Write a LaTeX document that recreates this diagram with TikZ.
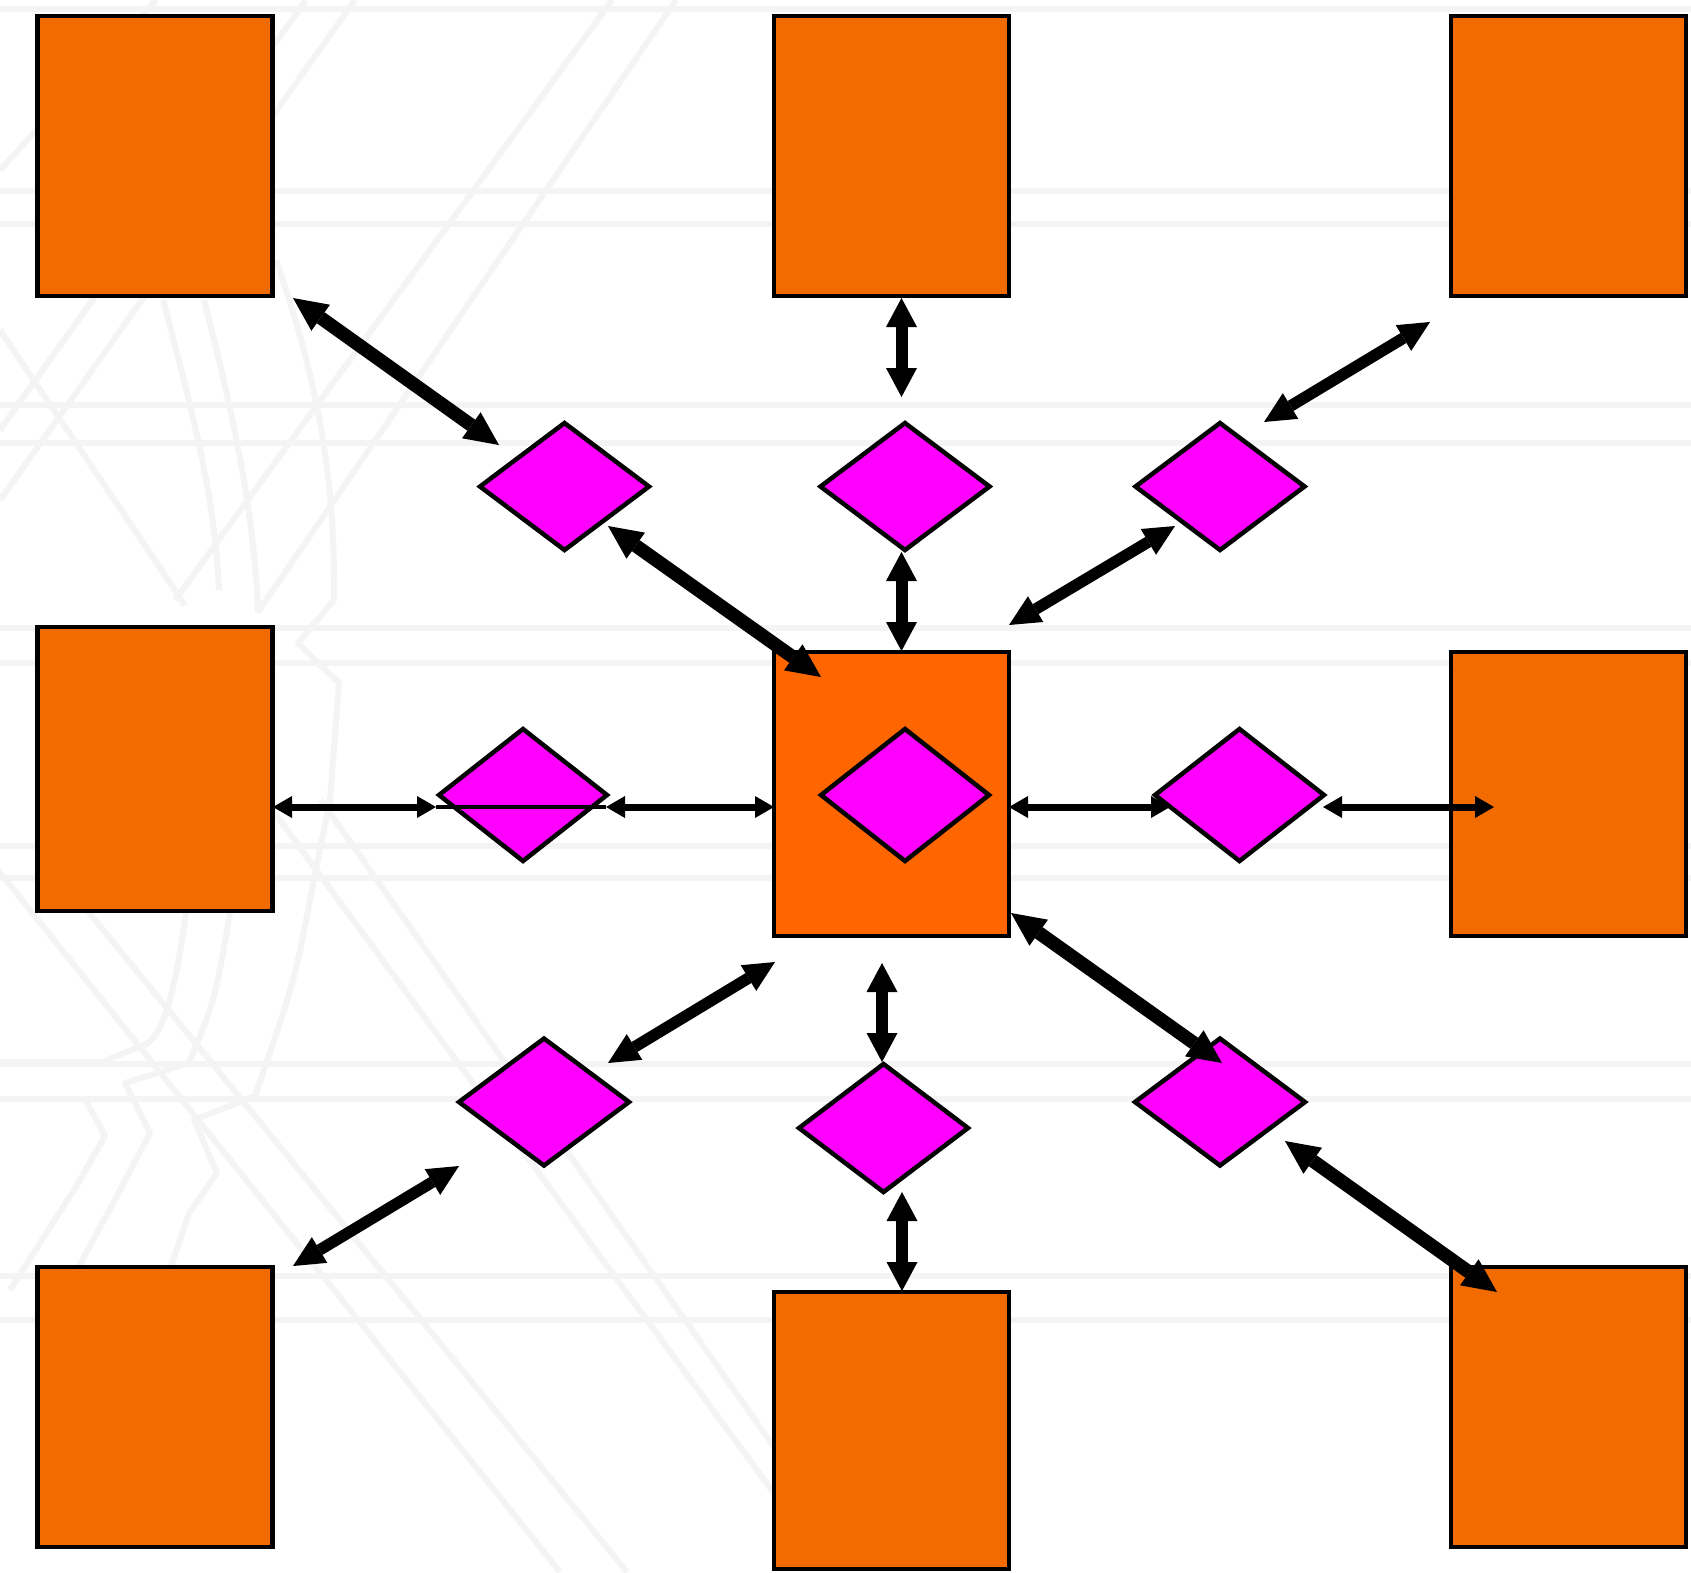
\documentclass[tikz,border=0pt]{standalone}
\usetikzlibrary{arrows.meta,shapes.geometric}
\definecolor{boxorange}{HTML}{F26B00}
\definecolor{centerorange}{HTML}{FF6600}
\definecolor{dmag}{HTML}{FF00FF}
\definecolor{bgline}{HTML}{F4F4F4}
\tikzset{
  box/.style={draw=black, line width=4.5pt, fill=boxorange, minimum width=235pt, inner sep=0pt, outer sep=0pt},
  dia/.style={diamond, draw=black, line width=4.5pt, fill=dmag, minimum width=169pt, minimum height=127pt, inner sep=0pt, outer sep=0pt},
  bgl/.style={draw=bgline, line width=6pt, line join=round},
  thickarr/.style={line width=13.5pt, {Triangle[length=34pt,width=32pt,line width=0pt]}-{Triangle[length=34pt,width=32pt,line width=0pt]}},
  medarr/.style={line width=11.5pt, {Triangle[length=31pt,width=30pt,line width=0pt]}-{Triangle[length=31pt,width=30pt,line width=0pt]}},
  vertarr/.style={line width=12pt, {Triangle[length=29pt,width=31pt,line width=0pt]}-{Triangle[length=29pt,width=31pt,line width=0pt]}},
  horarr/.style={line width=7pt, {Triangle[length=19pt,width=22pt,line width=0pt]}-{Triangle[length=19pt,width=22pt,line width=0pt]}},
  thinline/.style={line width=4.5pt}
}
\begin{document}
\begin{tikzpicture}[x=1pt,y=-1pt]
\useasboundingbox (0,0) rectangle (1691,1572);
\fill[white] (0,0) rectangle (1691,1572);
% faint background pattern
\foreach \yy in {9,191,224,405,443,628,663,846,878,1064,1099,1276,1320}
  \draw[bgl] (0,\yy) -- (1691,\yy);
\draw[bgl] (355,0) -- (0,500);
\draw[bgl] (306,0) -- (0,430);
\draw[bgl] (156,0) -- (0,170);
\draw[bgl] (612,0) -- (175,600);
\draw[bgl] (676,0) -- (258,612);
\draw[bgl] (0,330) -- (185,605);
\draw[bgl] (163,300) .. controls (195,420) and (215,500) .. (219,590);
\draw[bgl] (204,300) .. controls (235,420) and (255,520) .. (258,613);
\draw[bgl] (276,260) .. controls (325,400) and (335,500) .. (334,600) -- (298,643) -- (339,683) -- (330,800) -- (313,884) .. controls (295,980) .. (255,1096) -- (194,1120) -- (217,1173) -- (189,1213) -- (163,1290);
\draw[bgl] (186,913) .. controls (175,990) and (165,1030) .. (148,1043) -- (102,1062) -- (0,1062);
\draw[bgl] (85,1099) -- (105,1136) -- (77,1185) -- (10,1290);
\draw[bgl] (230,913) .. controls (215,1000) .. (189,1063) -- (125,1083) -- (150,1133) -- (117,1196) -- (66,1290);
\draw[bgl] (-18,850) -- (560,1572);
\draw[bgl] (38,850) -- (627,1572);
\draw[bgl] (265,800) -- (790,1515);
\draw[bgl] (321,800) -- (790,1470);
% boxes
\node[box, minimum height=280pt] (b1) at (155,156) {};
\node[box, minimum height=280pt] (b2) at (891.5,156) {};
\node[box, minimum height=280pt] (b3) at (1568.5,156) {};
\node[box, minimum height=284pt] (b4) at (155,769) {};
\node[box, minimum height=284pt, fill=centerorange] (b5) at (891.5,794) {};
\node[box, minimum height=284pt] (b6) at (1568.5,794) {};
\node[box, minimum height=280pt] (b7) at (155,1407) {};
\node[box, minimum height=277pt] (b8) at (891.5,1430.5) {};
\node[box, minimum height=280pt] (b9) at (1568.5,1407) {};
% diamonds
\node[dia] (d1) at (564.5,486.5) {};
\node[dia] (d2) at (905,486.5) {};
\node[dia] (d3) at (1220,486.5) {};
\node[dia, minimum width=168pt, minimum height=132pt] (d4) at (523,795) {};
\node[dia, minimum width=168pt, minimum height=132pt] (d5) at (905,795) {};
\node[dia, minimum width=169pt, minimum height=132pt] (d6) at (1239.5,795) {};
\node[dia, minimum width=170pt] (d7) at (544,1102) {};
\node[dia, minimum height=128pt] (d8) at (883.5,1128) {};
\node[dia, minimum width=170pt] (d9) at (1220,1102) {};
% connectors
\draw[thickarr] ([shift={(138,142)}]b1.center) -- ([shift={(-65.5,-41.5)}]d1.center);
\draw[vertarr] ([shift={(10,142)}]b2.center) -- ([shift={(-3.5,-89.5)}]d2.center);
\draw[medarr] ([shift={(44,-64.5)}]d3.center) -- ([shift={(-138.5,166)}]b3.center);
\draw[thickarr] ([shift={(43.5,39.5)}]d1.center) -- ([shift={(-70.5,-117)}]b5.center);
\draw[vertarr] ([shift={(-3.5,65.5)}]d2.center) -- ([shift={(10,-143)}]b5.center);
\draw[medarr] ([shift={(117.5,-169)}]b5.center) -- ([shift={(-45,39.5)}]d3.center);
\draw[horarr] ([shift={(118,38)}]b4.center) -- ([shift={(-87,12)}]d4.center);
\draw[thinline] ([shift={(-87,12)}]d4.center) -- ([shift={(83,12)}]d4.center);
\draw[horarr] ([shift={(83,12)}]d4.center) -- ([shift={(-117.5,13)}]b5.center);
\draw[horarr] ([shift={(117.5,13)}]b5.center) -- ([shift={(-69.5,12)}]d6.center);
\draw[horarr] ([shift={(83.5,12)}]d6.center) -- ([shift={(-74.5,13)}]b6.center);
\draw[thickarr] ([shift={(119.5,119)}]b5.center) -- ([shift={(2,-39)}]d9.center);
\draw[medarr] ([shift={(64,-39)}]d7.center) -- ([shift={(-116.5,168)}]b5.center);
\draw[vertarr] ([shift={(-9.5,169)}]b5.center) -- ([shift={(-1.5,-66)}]d8.center);
\draw[medarr] ([shift={(138,-141)}]b7.center) -- ([shift={(-85,64)}]d7.center);
\draw[vertarr] ([shift={(18.5,64)}]d8.center) -- ([shift={(10.5,-139.5)}]b8.center);
\draw[thickarr] ([shift={(65,39)}]d9.center) -- ([shift={(-71.5,-115)}]b9.center);
\end{tikzpicture}
\end{document}
